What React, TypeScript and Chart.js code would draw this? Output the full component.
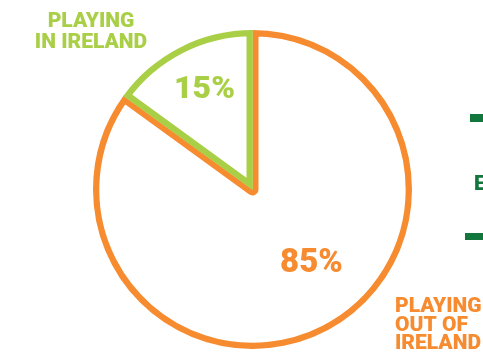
import React, { useEffect, useRef } from "react";
import { Chart, registerables } from "chart.js";

Chart.register(...registerables);

const categories = ["PLAYING OUT OF IRELAND", "PLAYING IN IRELAND"];
const shares = [85, 15];
const sliceColors = ["#F68B2F", "#A9CF46"];
const darkGreen = "#12773D";

const labelsPlugin = {
  id: "labelsPlugin",
  afterDraw(chart: any) {
    const ctx = chart.ctx;
    const arc = chart.getDatasetMeta(0).data[0];
    const cx = arc.x;
    const cy = arc.y;
    ctx.save();
    // percentages
    ctx.textAlign = "center";
    ctx.textBaseline = "alphabetic";
    ctx.font = "900 32px Roboto";
    ctx.fillStyle = sliceColors[1];
    ctx.fillText(shares[1] + "%", cx - 48, cy - 92);
    ctx.font = "900 33px Roboto";
    ctx.fillStyle = sliceColors[0];
    ctx.fillText(shares[0] + "%", cx + 59, cy + 82);
    // category labels
    ctx.font = "900 21px Roboto";
    ctx.fillStyle = sliceColors[1];
    ctx.fillText("PLAYING", 91, 27);
    ctx.fillText("IN IRELAND", 91, 48);
    ctx.textAlign = "left";
    ctx.fillStyle = sliceColors[0];
    ctx.fillText("PLAYING", 395, 312);
    ctx.fillText("OUT OF", 395, 331);
    ctx.fillText("IRELAND", 395, 349);
    // cut-off decoration on the right
    ctx.fillStyle = darkGreen;
    ctx.fillRect(470, 114, 13, 8);
    ctx.fillRect(465, 233, 18, 7);
    ctx.font = "900 21px Roboto";
    ctx.fillText("E", 474, 190);
    ctx.restore();
  },
};

export default function App() {
  const ref = useRef<HTMLCanvasElement>(null);
  useEffect(() => {
    if (!ref.current) return;
    const chart = new Chart(ref.current, {
      type: "pie",
      data: {
        labels: categories,
        datasets: [
          {
            data: shares,
            backgroundColor: "#FFFFFF",
            borderColor: sliceColors,
            borderWidth: 6,
            borderAlign: "inner",
          },
        ],
      },
      options: {
        responsive: false,
        animation: false,
        layout: { padding: { left: 93, right: 71, top: 30, bottom: 9 } },
        plugins: { legend: { display: false }, tooltip: { enabled: false } },
      },
      plugins: [labelsPlugin],
    });
    return () => chart.destroy();
  }, []);
  return (
    <div style={{ position: "fixed", left: 0, top: 0, width: 483, height: 358, background: "#fff" }}>
      <canvas ref={ref} width={483} height={358} style={{ width: 483, height: 358, display: "block" }} />
    </div>
  );
}
